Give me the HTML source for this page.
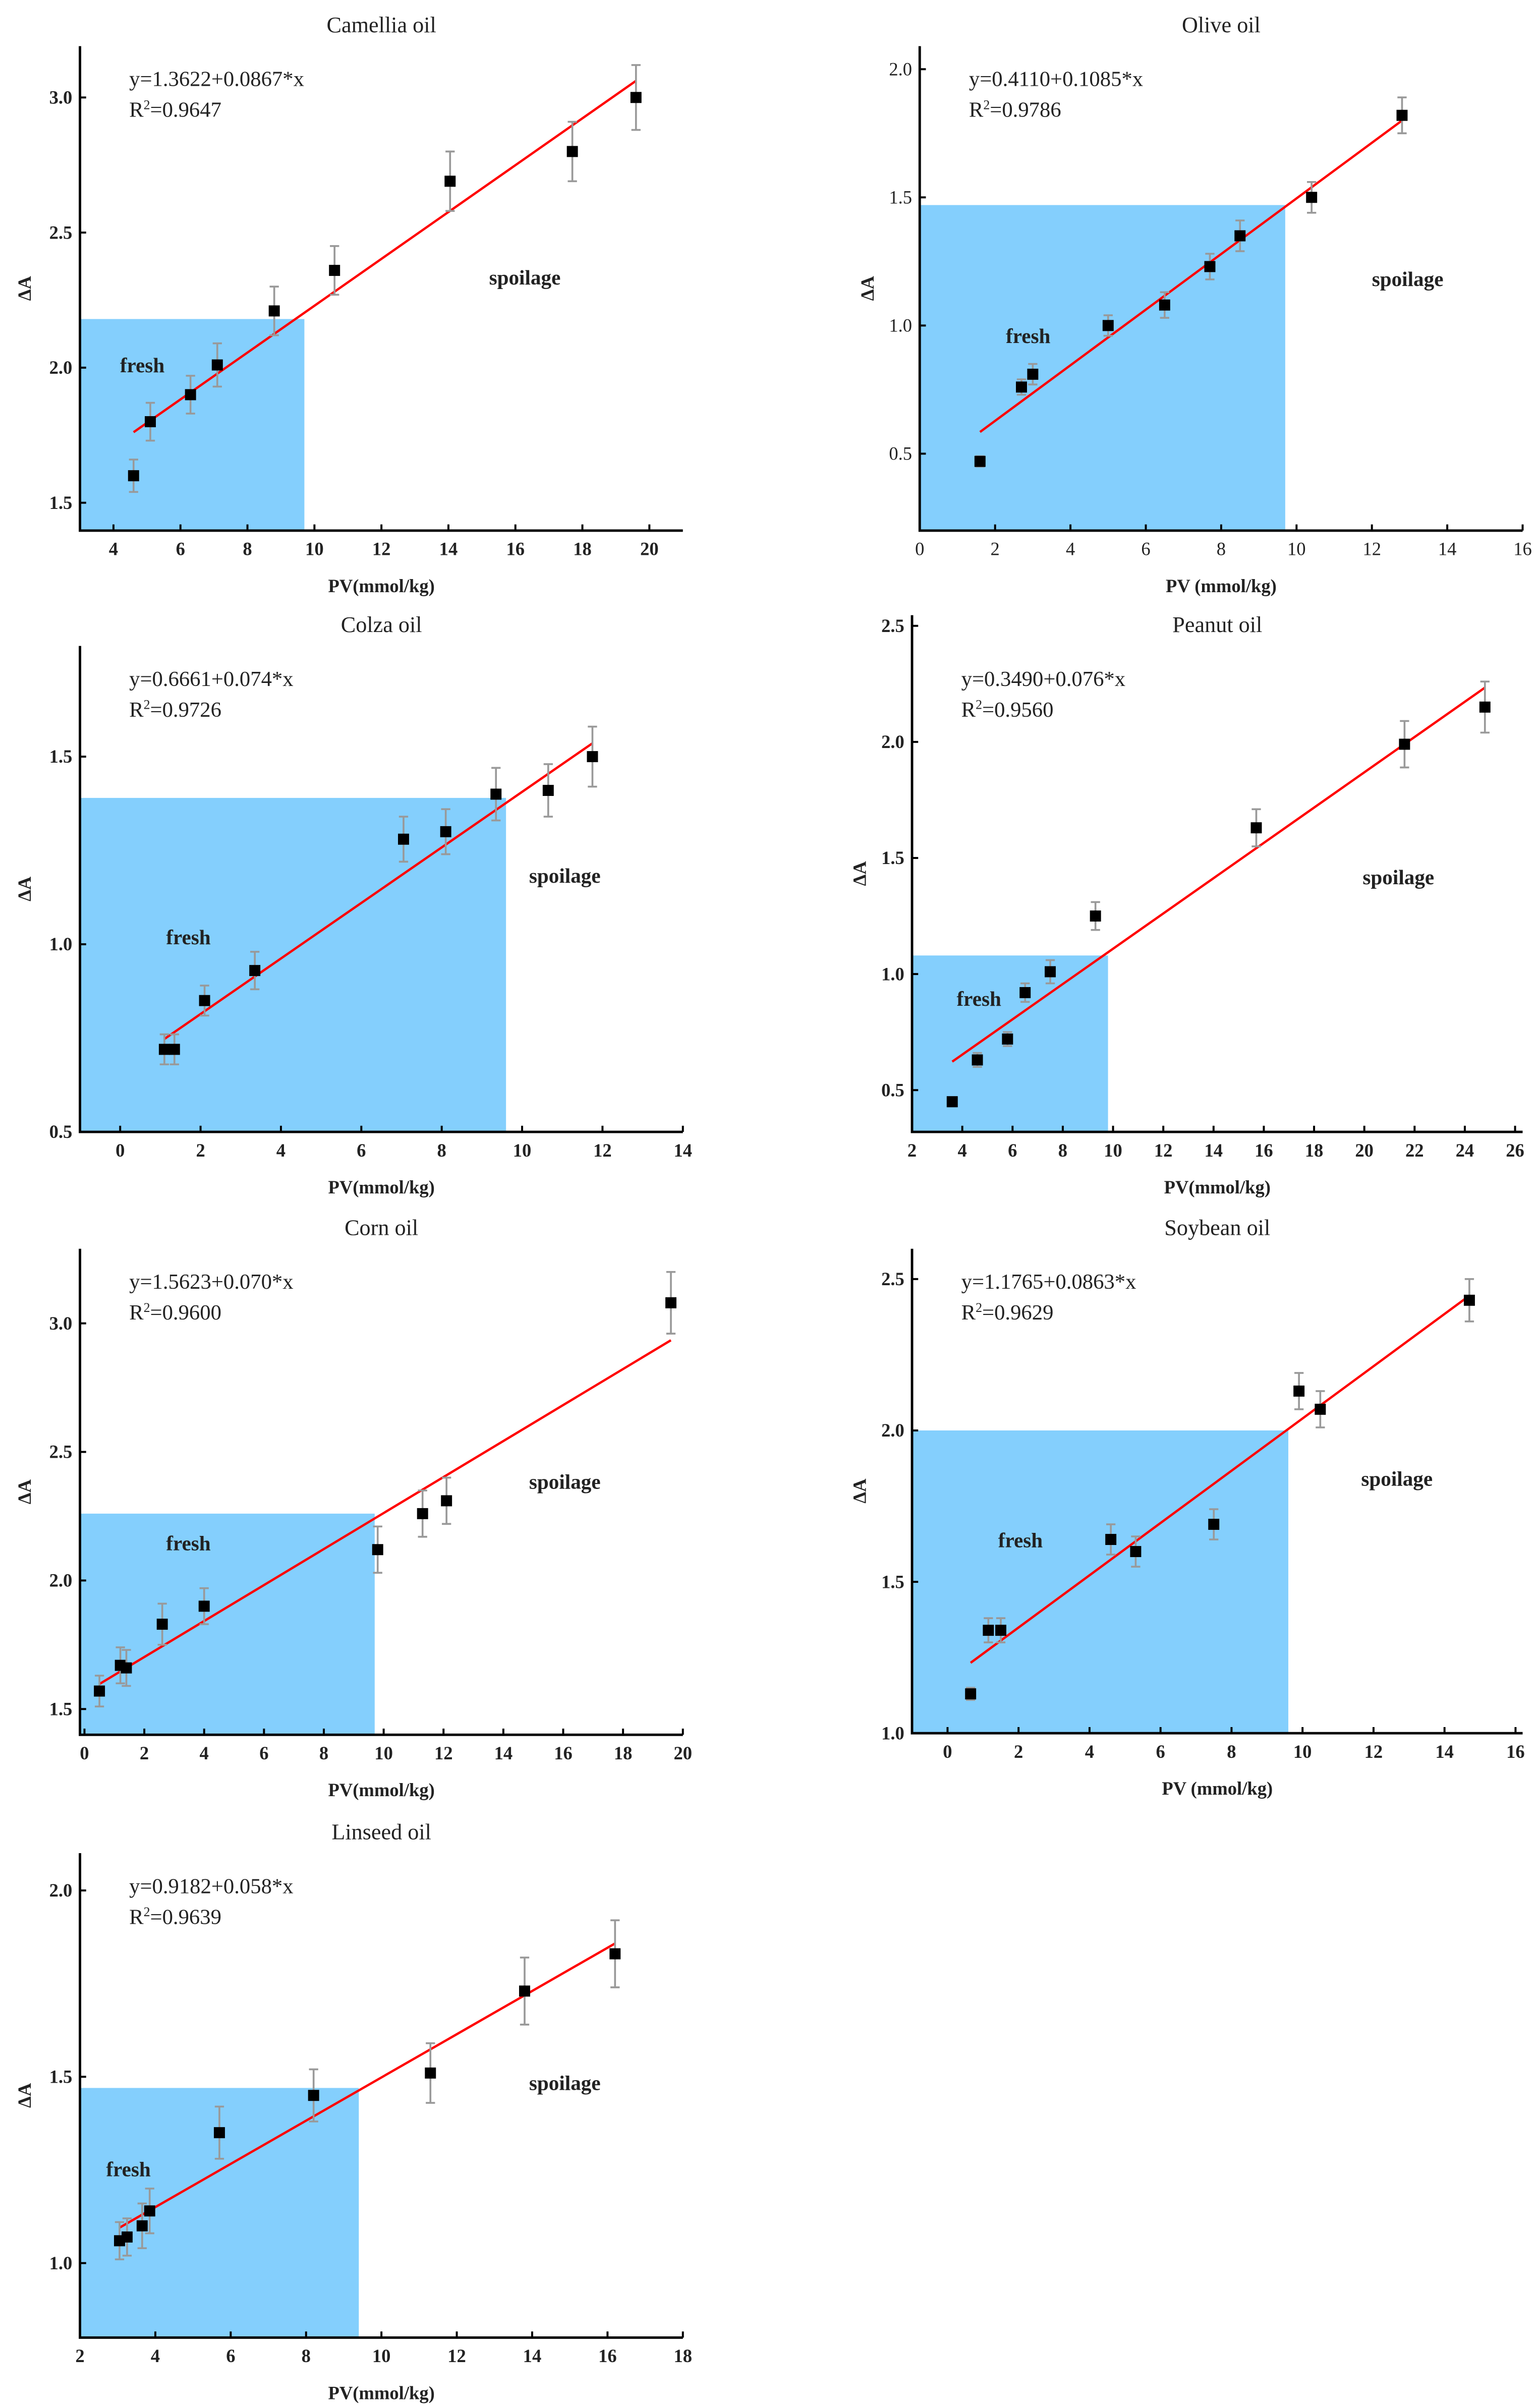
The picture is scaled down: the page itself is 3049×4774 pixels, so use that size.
<!DOCTYPE html>
<html><head><meta charset="utf-8">
<style>
html,body{margin:0;padding:0;background:#fff;}
svg{display:block;}
text{font-family:"Liberation Serif",serif;}
</style></head>
<body>
<svg id="fig" width="3049" height="4774" viewBox="0 0 1000 1565.76" xmlns="http://www.w3.org/2000/svg"></svg>
<script>
// ---- data ----
const camelliaX=[4.6,5.1,6.3,7.1,8.8,10.6,14.05,17.7,19.6];
const camelliaY=[1.6,1.8,1.9,2.01,2.21,2.36,2.69,2.80,3.0];
const camelliaErr=[0.06,0.07,0.07,0.08,0.09,0.09,0.11,0.11,0.12];
const oliveX=[1.6,2.7,3.0,5.0,6.5,7.7,8.5,10.4,12.8];
const oliveY=[0.47,0.76,0.81,1.0,1.08,1.23,1.35,1.5,1.82];
const oliveErr=[0.02,0.03,0.04,0.04,0.05,0.05,0.06,0.06,0.07];
const colzaX=[1.1,1.35,2.1,3.35,7.05,8.1,9.35,10.65,11.75];
const colzaY=[0.72,0.72,0.85,0.93,1.28,1.30,1.40,1.41,1.50];
const colzaErr=[0.04,0.04,0.04,0.05,0.06,0.06,0.07,0.07,0.08];
const peanutX=[3.6,4.6,5.8,6.5,7.5,9.3,15.7,21.6,24.8];
const peanutY=[0.45,0.63,0.72,0.92,1.01,1.25,1.63,1.99,2.15];
const peanutErr=[0.02,0.03,0.03,0.04,0.05,0.06,0.08,0.1,0.11];
const cornX=[0.5,1.2,1.4,2.6,4.0,9.8,11.3,12.1,19.6];
const cornY=[1.57,1.67,1.66,1.83,1.9,2.12,2.26,2.31,3.08];
const cornErr=[0.06,0.07,0.07,0.08,0.07,0.09,0.09,0.09,0.12];
const soyX=[0.65,1.15,1.5,4.6,5.3,7.5,9.9,10.5,14.7];
const soyY=[1.13,1.34,1.34,1.64,1.6,1.69,2.13,2.07,2.43];
const soyErr=[0.02,0.04,0.04,0.05,0.05,0.05,0.06,0.06,0.07];
const linX=[3.05,3.25,3.65,3.85,5.7,8.2,11.3,13.8,16.2];
const linY=[1.06,1.07,1.10,1.14,1.35,1.45,1.51,1.73,1.83];
const linErr=[0.05,0.05,0.06,0.06,0.07,0.07,0.08,0.09,0.09];
const camelliaFit=[1.3622,0.0867];
const oliveFit=[0.4110,0.1085];
const colzaFit=[0.6661,0.074];
const peanutFit=[0.3490,0.076];
const cornFit=[1.5623,0.070];
const soyFit=[1.1765,0.0863];
const linFit=[0.9182,0.058];
const camelliaXTicks=[4,6,8,10,12,14,16,18,20];
const camelliaYTicks=[1.5,2.0,2.5,3.0];
const oliveXTicks=[0,2,4,6,8,10,12,14,16];
const oliveYTicks=[0.5,1.0,1.5,2.0];
const colzaXTicks=[0,2,4,6,8,10,12,14];
const colzaYTicks=[0.5,1.0,1.5];
const peanutXTicks=[2,4,6,8,10,12,14,16,18,20,22,24,26];
const peanutYTicks=[0.5,1.0,1.5,2.0,2.5];
const cornXTicks=[0,2,4,6,8,10,12,14,16,18,20];
const cornYTicks=[1.5,2.0,2.5,3.0];
const soyXTicks=[0,2,4,6,8,10,12,14,16];
const soyYTicks=[1.0,1.5,2.0,2.5];
const linXTicks=[2,4,6,8,10,12,14,16,18];
const linYTicks=[1.0,1.5,2.0];
// fresh region: [x limit, y limit]
const camelliaFresh=[9.7,2.18];
const oliveFresh=[9.7,1.47];
const colzaFresh=[9.6,1.39];
const peanutFresh=[9.8,1.08];
const cornFresh=[9.7,2.26];
const soyFresh=[9.6,2.0];
const linFresh=[9.4,1.47];

const panels=[
 {id:'camellia',title:'Camellia oil',xl:'PV(mmol/kg)',L:52,R:444,T:30,B:345,xr:[3,21],yr:[1.397,3.19],X:camelliaX,Y:camelliaY,E:camelliaErr,F:camelliaFit,xt:camelliaXTicks,yt:camelliaYTicks,fr:camelliaFresh,eq:['y=1.3622+0.0867*x','0.9647'],fp:[78,238],sp:[318,181],bold:true},
 {id:'olive',title:'Olive oil',xl:'PV (mmol/kg)',L:598,R:990,T:30,B:345,xr:[0,16],yr:[0.2,2.09],X:oliveX,Y:oliveY,E:oliveErr,F:oliveFit,xt:oliveXTicks,yt:oliveYTicks,fr:oliveFresh,eq:['y=0.4110+0.1085*x','0.9786'],fp:[654,219],sp:[892,182],bold:false},
 {id:'colza',title:'Colza oil',xl:'PV(mmol/kg)',L:52,R:444,T:420,B:736,xr:[-1,14],yr:[0.5,1.795],X:colzaX,Y:colzaY,E:colzaErr,F:colzaFit,xt:colzaXTicks,yt:colzaYTicks,fr:colzaFresh,eq:['y=0.6661+0.074*x','0.9726'],fp:[108,610],sp:[344,570],bold:true},
 {id:'peanut',title:'Peanut oil',xl:'PV(mmol/kg)',L:593,R:990,T:400,B:736,xr:[2,26.3],yr:[0.32,2.546],X:peanutX,Y:peanutY,E:peanutErr,F:peanutFit,xt:peanutXTicks,yt:peanutYTicks,fr:peanutFresh,eq:['y=0.3490+0.076*x','0.9560'],fp:[622,650],sp:[886,571],bold:true},
 {id:'corn',title:'Corn oil',xl:'PV(mmol/kg)',L:52,R:444,T:812,B:1128,xr:[-0.15,20],yr:[1.40,3.29],X:cornX,Y:cornY,E:cornErr,F:cornFit,xt:cornXTicks,yt:cornYTicks,fr:cornFresh,eq:['y=1.5623+0.070*x','0.9600'],fp:[108,1004],sp:[344,964],bold:true},
 {id:'soybean',title:'Soybean oil',xl:'PV (mmol/kg)',L:593,R:990,T:812,B:1127,xr:[-1,16.2],yr:[1.0,2.6],X:soyX,Y:soyY,E:soyErr,F:soyFit,xt:soyXTicks,yt:soyYTicks,fr:soyFresh,eq:['y=1.1765+0.0863*x','0.9629'],fp:[649,1002],sp:[885,962],bold:true},
 {id:'linseed',title:'Linseed oil',xl:'PV(mmol/kg)',L:52,R:444,T:1205,B:1520,xr:[2,18],yr:[0.80,2.1],X:linX,Y:linY,E:linErr,F:linFit,xt:linXTicks,yt:linYTicks,fr:linFresh,eq:['y=0.9182+0.058*x','0.9639'],fp:[69,1411],sp:[344,1355],bold:true}
];
const NS='http://www.w3.org/2000/svg';
const svg=document.getElementById('fig');
function mk(tag,attrs,parent,txt){const e=document.createElementNS(NS,tag);for(const k in attrs)e.setAttribute(k,attrs[k]);if(txt!==undefined)e.textContent=txt;parent.appendChild(e);return e;}
panels.forEach(p=>{
 const g=mk('g',{},svg);
 
 
 const sx=v=>p.L+(v-p.xr[0])/(p.xr[1]-p.xr[0])*(p.R-p.L);
 const sy=v=>p.B-(v-p.yr[0])/(p.yr[1]-p.yr[0])*(p.B-p.T);
 const r=mk('rect',{x:p.L,y:sy(p.fr[1]),width:sx(p.fr[0])-p.L,height:p.B-sy(p.fr[1]),fill:'#84cffd'},g);
 
 
 const t=mk('text',{x:(p.L+p.R)/2,y:(p.id==='peanut'?420:p.T)-9,'font-size':14.5,'text-anchor':'middle',fill:'#222'},g,p.title);
 
 
 const fw=p.bold?'bold':'normal';
 p.xt.forEach(v=>{const x=sx(v);
  mk('line',{x1:x,x2:x,y1:p.B,y2:p.B-4,stroke:'#000','stroke-width':1.3},g);
  const l=mk('text',{x:x,y:p.B+16,'font-size':12,'font-weight':fw,'text-anchor':'middle',fill:'#222'},g,String(v));
  
  
 });
 p.yt.forEach(v=>{const y=sy(v);
  mk('line',{x1:p.L,x2:p.L+4,y1:y,y2:y,stroke:'#000','stroke-width':1.3},g);
  const l=mk('text',{x:p.L-5,y:y+4,'font-size':12,'font-weight':fw,'text-anchor':'end',fill:'#222'},g,v.toFixed(1));
  
  
 });
 const ax=mk('path',{d:`M${p.L},${p.T} V${p.B} H${p.R}`,fill:'none',stroke:'#000','stroke-width':1.6},g);
 
 
 const xl=mk('text',{x:(p.L+p.R)/2,y:p.B+40,'font-size':12,'font-weight':'bold','text-anchor':'middle',fill:'#222'},g,p.xl);
 
 
 const cy=(p.T+p.B)/2;const lx=p.id==='olive'||p.id==='peanut'||p.id==='soybean'?p.L-30:20;
 const yl=mk('text',{x:lx,y:cy,'font-size':12,'font-weight':'bold','text-anchor':'middle',fill:'#222',transform:`rotate(-90 ${lx} ${cy})`},g,'ΔA');
 
 
 // fit line
 const x0=p.X[0],x1=p.X[p.X.length-1];
 const fl=mk('line',{x1:sx(x0),y1:sy(p.F[0]+p.F[1]*x0),x2:sx(x1),y2:sy(p.F[0]+p.F[1]*x1),stroke:'#f00','stroke-width':1.5},g);
 
 
 p.X.forEach((xv,i)=>{
  const x=sx(xv),y=sy(p.Y[i]),yt=sy(p.Y[i]+p.E[i]),yb=sy(p.Y[i]-p.E[i]);
  const eb=mk('path',{d:`M${x},${yt}V${yb}M${x-3},${yt}H${x+3}M${x-3},${yb}H${x+3}`,stroke:'#999','stroke-width':1.2,fill:'none'},g);
  
  
  const pt=mk('rect',{x:x-3.6,y:y-3.6,width:7.2,height:7.2,fill:'#000'},g);
  
  
 });
 const ex=p.L+32;
 const ty=p.id==='peanut'?420:p.T;
 const e1=mk('text',{x:ex,y:ty+26,'font-size':14,fill:'#222'},g,p.eq[0]);
 
 
 const e2=mk('text',{x:ex,y:ty+46,'font-size':14,fill:'#222'},g);
 
 
 mk('tspan',{},e2,'R');mk('tspan',{dy:-5,'font-size':8.5},e2,'2');mk('tspan',{dy:5},e2,'='+p.eq[1]);
 const f=mk('text',{x:p.fp[0],y:p.fp[1]+4,'font-size':13.5,'font-weight':'bold',fill:'#222'},g,'fresh');
 
 
 const s=mk('text',{x:p.sp[0],y:p.sp[1]+4,'font-size':13.5,'font-weight':'bold',fill:'#222'},g,'spoilage');
 
 
});
</script>
</body></html>
